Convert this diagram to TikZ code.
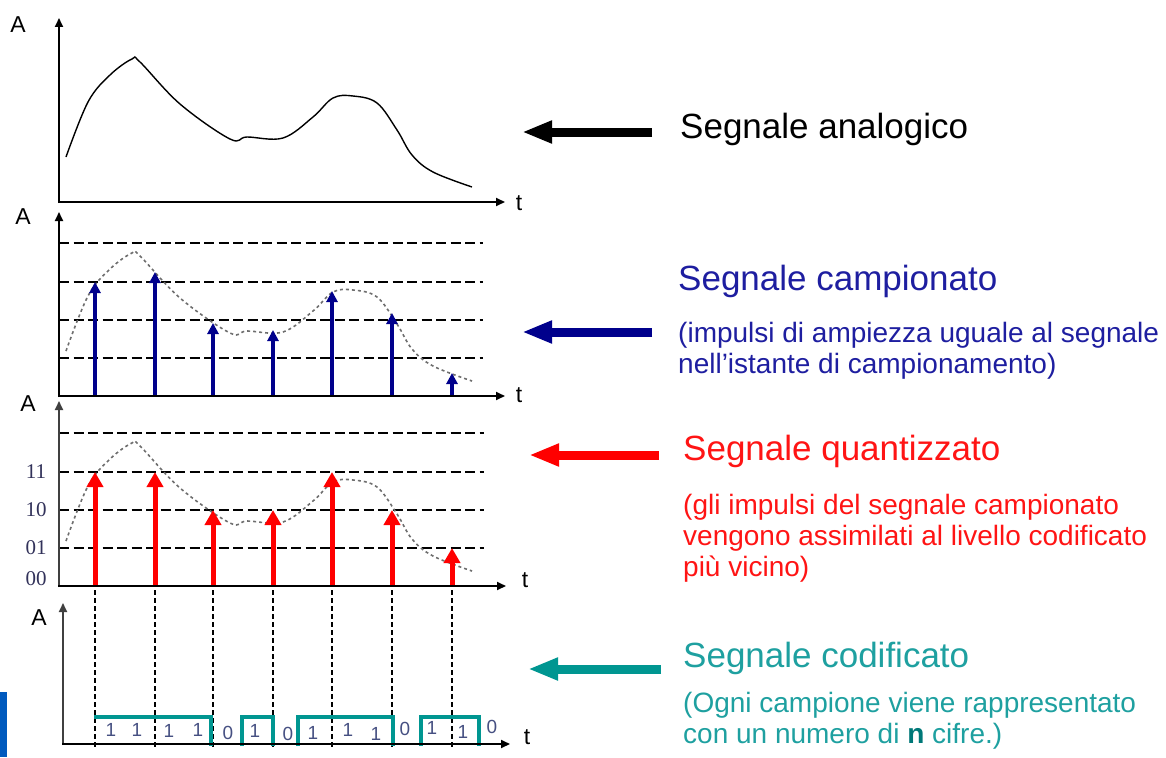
\documentclass[tikz,border=0pt]{standalone}
\usepackage{fontspec}
\setmainfont{Liberation Sans}
\newfontfamily\levelfont{Liberation Serif}
\usetikzlibrary{arrows.meta,positioning}

\definecolor{sampblue}{RGB}{0,0,140}
\definecolor{sampbluetext}{RGB}{30,30,160}
\definecolor{quantred}{RGB}{255,0,0}
\definecolor{quantredtext}{RGB}{255,20,20}
\definecolor{codeteal}{RGB}{0,150,145}
\definecolor{codetealtext}{RGB}{30,160,160}
\definecolor{codetealdark}{RGB}{0,120,120}
\definecolor{bitgray}{RGB}{70,80,130}
\definecolor{levelink}{RGB}{50,50,90}
\definecolor{barblue}{RGB}{0,90,190}
\definecolor{curvegray}{RGB}{110,110,110}

\newcommand{\signalcurve}{plot[smooth, tension=0.6] coordinates {(66,-45) (88,-100) (110,-127) (132,-143) (140,-140) (180,-98) (230,-63) (247,-65) (283,-64) (313,-85) (333,-104) (353,-106) (377,-99) (397,-72) (412,-47) (433,-30) (472,-15)}}

\begin{document}
\begin{tikzpicture}[
    x=1pt, y=-1pt,
    axis/.style={-{Triangle[length=9pt,width=8pt]}, line width=1.8pt},
    level/.style={line width=1.6pt, dash pattern=on 10pt off 4.5pt},
    trace/.style={curvegray, line width=1.6pt, dash pattern=on 3pt off 3pt},
    sample/.style={sampblue, line width=3.5pt, -{Triangle[length=11pt,width=11pt]}},
    quant/.style={quantred, line width=5pt, -{Triangle[length=15pt,width=16pt]}},
    guide/.style={line width=1.3pt, dash pattern=on 5pt off 3pt},
    code/.style={codeteal, line width=3.5pt},
    bigarrow/.style={line width=9pt, -{Triangle[length=30pt,width=21pt]}},
    lbl/.style={inner sep=0pt, font=\fontsize{23}{26}\selectfont},
    levellbl/.style={inner sep=0pt, text=levelink, font=\levelfont\fontsize{21}{24}\selectfont},
    bit/.style={inner sep=0pt, text=bitgray, font=\fontsize{19}{22}\selectfont},
    title/.style={anchor=base west, inner sep=0pt, font=\fontsize{35}{42}\selectfont},
    note/.style={anchor=base west, inner sep=0pt, align=left, font=\fontsize{28}{31}\selectfont}
]
    \useasboundingbox (0,0) rectangle (1166,757);

    \begin{scope}[shift={(0,202)}]
        \draw[line width=1.4pt] \signalcurve;
        \draw[axis] (59,1) -- (59,-184);
        \draw[axis] (58,0) -- (505,0);
        \node[lbl] (A1) at (18,-177) {A};
        \node[lbl] (t1) at (519,1) {t};
    \end{scope}

    \begin{scope}[shift={(0,396)}]
        \foreach \h in {38,76,114,153}
            \draw[level] (59,-\h) -- (483,-\h);
        \draw[trace] \signalcurve;
        \foreach \x/\h in {95/114,155/124,213/73,273/66,332/105,392/83,452/23}
            \draw[sample] (\x,0) -- (\x,-\h);
        \draw[axis] (59,1) -- (59,-184);
        \draw[axis] (58,0) -- (505,0);
        \node[lbl] (A2) at (23,-179) {A};
        \node[lbl] (t2) at (519,-1) {t};
    \end{scope}

    \begin{scope}[shift={(0,586)}]
        \foreach \h in {38,76,114,153}
            \draw[level] (59,-\h) -- (484,-\h);
        \draw[trace] \signalcurve;
        \foreach \x/\h in {95/114,155/114,213/76,273/76,332/114,392/76,452/38}
            \draw[quant] (\x,0) -- (\x,-\h);
        \draw[axis, black!75] (59,1) -- (59,-185);
        \draw[axis] (58,0) -- (506,0);
        \node[levellbl] (lv11) at (36,-114) {11};
        \node[levellbl] (lv10) at (36,-76) {10};
        \node[levellbl] (lv01) at (36,-38) {01};
        \node[levellbl] (lv00) at (36,-7) {00};
        \node[lbl] (A3) at (28,-182) {A};
        \node[lbl] (t3) at (525,-6) {t};
    \end{scope}

    \foreach \x in {95,155,213,273,332,392,452}
        \draw[guide] (\x,590) -- (\x,748);

    \begin{scope}[shift={(0,744)}]
        \draw[code] (94,-27) -- (211,-27) -- (211,2);
        \foreach \a/\b in {242/273,298/393,421/479}
            \draw[code] (\a,2) -- (\a,-27) -- (\b,-27) -- (\b,2);
        \draw[axis, black!75] (63,1) -- (63,-141);
        \draw[axis] (62,0) -- (510,0);
        \foreach \x/\y/\b in {111/-14/1,137/-14/1,169/-13/1,198/-14/1,228/-11/0,255/-13/1,288/-10/0,313/-11/1,348/-14/1,376/-10/1,405/-15/0,432/-16/1,463/-12/1,492/-17/0}
            \node[bit] (bit\x) at (\x,\y) {\b};
        \node[lbl] (A4) at (39,-126) {A};
        \node[lbl] (t4) at (527,-7) {t};
    \end{scope}

    \fill[barblue] (0,692) rectangle (7,757);

    \coordinate (analog-tail) at (652,132);
    \coordinate (analog-tip) at (522,132);
    \draw[bigarrow] (analog-tail) -- (analog-tip);
    \node[title] (analog) at (680,139) {Segnale analogico};

    \coordinate (sampled-tail) at (652,332);
    \coordinate (sampled-tip) at (522,332);
    \draw[bigarrow, sampblue] (sampled-tail) -- (sampled-tip);
    \node[title, text=sampbluetext] (sampled) at (678,290) {Segnale campionato};
    \node[note, text=sampbluetext] (sampled-note) at (678,373) {(impulsi di ampiezza uguale al segnale\\nell’istante di campionamento)};

    \coordinate (quant-tail) at (659,455);
    \coordinate (quant-tip) at (529,455);
    \draw[bigarrow, quantred] (quant-tail) -- (quant-tip);
    \node[title, text=quantredtext] (quantized) at (683,460) {Segnale quantizzato};
    \node[note, text=quantredtext] (quantized-note) at (683,576) {(gli impulsi del segnale campionato\\vengono assimilati al livello codificato\\più vicino)};

    \coordinate (code-tail) at (661,669);
    \coordinate (code-tip) at (528,669);
    \draw[bigarrow, codeteal] (code-tail) -- (code-tip);
    \node[title, text=codetealtext] (coded) at (683,667) {Segnale codificato};
    \node[note, text=codetealtext] (coded-note) at (683,743) {(Ogni campione viene rappresentato\\con un numero di {\bfseries\color{codetealdark}n} cifre.)};
\end{tikzpicture}
\end{document}
